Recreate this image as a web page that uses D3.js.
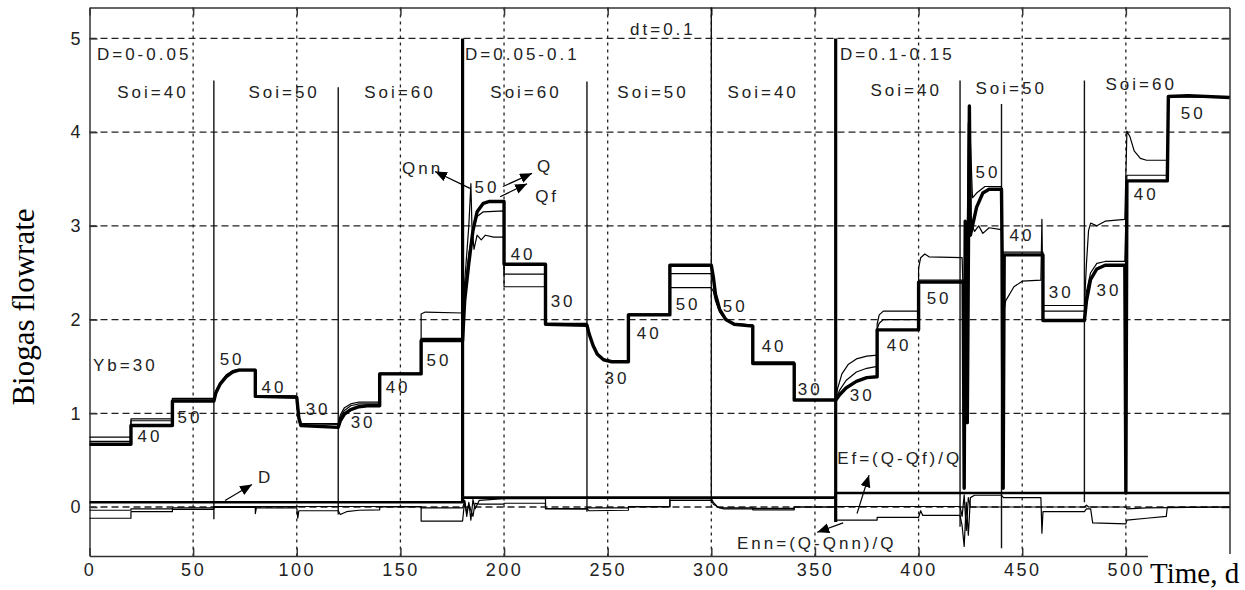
<!DOCTYPE html>
<head>
  <meta charset="utf-8">
  <script src="https://d3js.org/d3.v7.min.js"></script>
  <style>
  body { margin: 0; background: #fff; }
  #chart text {
    font-family: "Liberation Sans", Arial, sans-serif;
    font-size: 17px;
    fill: #222;
  }
  #chart .note { letter-spacing: 3px; }
  #chart .axis text { letter-spacing: 2.5px; font-size: 18px; }
  #chart .serif { font-family: "Liberation Serif", "Times New Roman", serif; fill: #000; }
  </style>
</head>

<body>
  <svg id="chart"></svg>
  <script>

    // time (d), value pairs
    var qData = [[0,0.67],[20,0.67],[20,0.87],[40,0.87],[40,1.13],[60,1.13],
      [61,1.22],[63,1.31],[66,1.39],[69,1.44],[72,1.46],[80,1.46],
      [80,1.18],[100,1.17],[101,0.95],[102,0.87],[120,0.85],
      [121,0.92],[123,0.99],[126,1.04],[130,1.07],[134,1.08],[140,1.08],
      [140,1.42],[160,1.42],[160,1.775],[180,1.775],
      [181,2.2],[183,2.6],[185,2.95],[187,3.15],[190,3.24],[193,3.26],[200,3.26],
      [200,2.59],[220,2.59],[220,1.95],[240,1.94],
      [241,1.85],[243,1.72],[245,1.63],[248,1.57],[252,1.55],[260,1.55],
      [260,2.05],[280,2.05],[280,2.58],[300,2.58],
      [301,2.45],[302,2.27],[304,2.11],[307,2.0],[311,1.95],[320,1.93],
      [320,1.53],[340,1.53],[340,1.14],[360,1.14],
      [362,1.2],[365,1.27],[370,1.34],[375,1.38],[380,1.39],
      [380,1.89],[400,1.89],[400,2.40],[421.5,2.40],
      [422,0.2],[422.5,3.05],[423.5,0.9],[424.5,4.28],[425,2.9],[428,3.2],[431,3.35],[434,3.39],[440,3.39],
      [440.3,2.69],[440.8,0.2],[441.3,2.69],[460,2.69],
      [460,1.99],[480,1.99],
      [481,2.2],[483,2.43],[486,2.54],[490,2.58],[499.5,2.58],
      [500,0.15],[500.5,3.48],[520,3.48],[520.5,4.38],[530,4.39],[550,4.37]];

    var qfData = [[0,0.70],[20,0.70],[20,0.92],[40,0.92],[40,1.15],[60,1.15],
      [61,1.23],[63,1.32],[66,1.40],[69,1.45],[72,1.465],[80,1.465],
      [80,1.19],[100,1.18],[101,0.96],[102,0.89],[120,0.88],
      [121,0.96],[123,1.03],[126,1.08],[130,1.10],[140,1.10],
      [140,1.43],[160,1.43],[160,1.80],[180,1.80],
      [181,2.3],[183,2.7],[185,2.95],[187,3.1],[190,3.15],[200,3.16],
      [200,2.485],[220,2.485],[220,1.96],[240,1.96],
      [241,1.86],[243,1.73],[245,1.64],[248,1.58],[252,1.56],[260,1.56],
      [260,2.06],[280,2.06],[280,2.49],[300,2.49],
      [301,2.42],[302,2.25],[304,2.1],[307,2.0],[311,1.96],[320,1.94],
      [320,1.55],[340,1.55],[340,1.15],[360,1.15],
      [362,1.25],[365,1.35],[370,1.44],[375,1.48],[380,1.5],
      [380,1.9],[381,1.96],[383,2.0],[400,2.0],
      [400,2.42],[422,2.42],[423,1.8],[424,4.1],[425,3.9],[426,3.3],[428,3.35],[432,3.42],[440,3.42],
      [440.5,2.72],[460,2.72],
      [460,2.09],[480,2.09],
      [481,2.3],[483,2.5],[486,2.6],[490,2.62],[499.5,2.62],
      [500.5,3.54],[520,3.54],[520.5,4.38],[550,4.37]];

    var qnnData = [[0,0.745],[20,0.745],[20,0.94],[40,0.94],[40,1.16],[60,1.16],
      [61,1.24],[63,1.33],[66,1.41],[69,1.455],[72,1.47],[80,1.47],
      [80,1.19],[100,1.185],[101,0.97],[102,0.89],[120,0.89],
      [121,0.98],[123,1.06],[126,1.10],[130,1.12],[140,1.12],
      [140,1.42],[160,1.42],[160,2.06],[162,2.08],[180,2.07],
      [181,2.4],[183,3.0],[184,3.45],[184.5,3.0],[185.5,2.75],[187,2.9],[189,2.85],[191,2.9],[195,2.88],[200,2.88],
      [200,2.35],[220,2.35],[220,1.95],[240,1.95],
      [241,1.85],[243,1.72],[245,1.63],[248,1.57],[252,1.55],[260,1.55],
      [260,2.05],[280,2.05],[280,2.34],[300,2.34],
      [301,2.3],[302,2.2],[304,2.08],[307,1.99],[311,1.95],[320,1.94],
      [320,1.54],[340,1.54],[340,1.14],[360,1.14],
      [361,1.27],[363,1.42],[366,1.52],[370,1.58],[375,1.61],[380,1.62],
      [380,1.95],[381,2.05],[383,2.09],[400,2.09],
      [400,2.55],[401,2.66],[403,2.7],[405,2.67],[421,2.66],
      [422.5,1.5],[423.5,2.9],[426,3.0],[427,2.94],[429,3.0],[431,2.92],[434,2.98],[440,2.96],
      [440.5,2.0],[442,2.2],[446,2.35],[450,2.41],[459,2.42],[459.5,3.07],[460,2.15],[480,2.15],
      [481,2.6],[482,2.95],[483,3.03],[486,3.0],[490,3.05],[499.5,3.07],
      [500.5,4.01],[502,3.95],[504,3.8],[507,3.72],[510,3.70],[520,3.70],[520.5,4.38],[550,4.37]];

    var ennData = [[0,-0.12],[20,-0.12],[20,-0.05],[40,-0.05],[40,-0.025],[60,-0.025],[60,-0.005],[80,-0.005],
      [80,-0.07],[80.5,-0.01],[100,-0.01],[100.5,-0.12],[101,-0.04],[120,-0.04],[121,-0.08],[124,-0.05],
      [130,-0.035],[140,-0.03],[140,0],[160,0],[160,-0.15],[180,-0.15],
      [181,0.07],[182,-0.1],[183,0.05],[184,-0.14],[185,0.08],[186,-0.02],[188,0.07],[200,0.09],
      [220,0.09],[220,-0.015],[240,-0.02],[241,-0.04],[260,-0.035],[260,0.005],[280,0.005],
      [280,0.09],[300,0.09],[301,0.05],[303,0.0],[306,-0.02],[320,-0.02],[320,-0.03],[340,-0.03],
      [340,0.0],[360,0.0],[360,-0.14],[380,-0.14],[380,-0.11],[400,-0.11],[401,-0.04],[402,-0.09],[420,-0.09],
      [421,-0.2],[422,-0.42],[423,0.05],[424,-0.3],[425,0.1],[427,0.125],[440,0.125],[441,0.1],[459,0.1],
      [459.5,-0.28],[460,-0.05],[480,-0.05],[481,-0.02],[483,-0.02],[484,-0.17],[500,-0.18],
      [500.5,-0.14],[510,-0.12],[519.5,-0.1],[520,0.0],[550,0.0]];

    var efData = [[0,-0.035],[20,-0.035],[20,-0.02],[40,-0.02],[40,-0.01],[60,-0.01],[60,0.005],[160,0.005],
      [160,-0.01],[180,-0.01],[181,0.06],[182,-0.06],[183,0.03],[185,-0.1],[186,0.04],[188,0.03],[200,0.03],
      [200,0.04],[220,0.04],[220,-0.02],[240,-0.02],[240,-0.01],[260,-0.01],[260,0.0],[280,0.0],
      [280,0.07],[300,0.07],[301,0.03],[304,-0.01],[320,-0.01],[320,-0.015],[340,-0.015],[340,0.0],
      [360,0.0],[360,0.005],[420,0.005],[421,-0.1],[422,0.13],[423,-0.25],[424,0.1],[425,0.0],
      [480,0.0],[481,0.02],[482,0.0],[500,0.0],[500.5,-0.02],[510,-0.01],[550,0.0]];

    var dData = [[0,0.05],[180,0.05],[180,0.1],[360,0.1],[360,0.15],[550,0.15]];

    // substrate (Soi) change markers and dilution change markers
    var soiTimes  = [60, 120, 240, 300, 420, 440, 480];
    var soiTop    = [4.55, 4.48, 4.54, 5.33, 4.55, 4.30, 4.55];
    var soiBottom = [-0.13, -0.08, -0.05, 0.04, -0.21, -0.44, 0.05];
    var dTimes  = [180, 360];
    var dTop    = [5.0, 5.0];
    var dBottom = [0.05, -0.16];

    var xTicks = [0, 50, 100, 150, 200, 250, 300, 350, 400, 450, 500];
    var yTicks = [0, 1, 2, 3, 4, 5];

    // Yb step labels: text, time, value
    var stepLabels = [["40",29.2,0.76],["50",48.5,0.955],["50",68.8,1.58],["40",89,1.28],["30",110.3,1.05],
      ["30",132,0.91],["40",148.9,1.28],["50",168.6,1.57],["50",191.8,3.41],["40",209.2,2.70],["30",228.5,2.20],
      ["30",254.5,1.38],["40",270,1.86],["50",288.8,2.17],["50",311.5,2.14],["40",330.3,1.72],["30",347.7,1.26],
      ["30",372.8,1.19],["40",390.6,1.73],["50",409.9,2.23],["50",433.5,3.57],["40",449.9,2.90],
      ["30",468.8,2.29],["30",491.9,2.32],["40",509.8,3.34],["50",532.5,4.20]];

    var notes = [["D=0-0.05",3.6,4.83,"start"],["D=0.05-0.1",181.2,4.83,"start"],["D=0.1-0.15",362.1,4.83,"start"],
      ["dt=0.1",260.8,5.1,"start"],
      ["Soi=40",30.6,4.43,"middle"],["Soi=50",93.9,4.43,"middle"],["Soi=60",149.8,4.43,"middle"],
      ["Soi=60",210.6,4.43,"middle"],["Soi=50",271.9,4.43,"middle"],["Soi=40",325,4.43,"middle"],
      ["Soi=40",394,4.45,"middle"],["Soi=50",444.7,4.47,"middle"],["Soi=60",507.4,4.51,"middle"],
      ["Yb=30",1.7,1.51,"start"],["Qnn",150.8,3.62,"start"],["Q",215.9,3.64,"start"],["Qf",215,3.32,"start"],
      ["D",81.3,0.32,"start"],["Ef=(Q-Qf)/Q",360.7,0.52,"start"],["Enn=(Q-Qnn)/Q",312.4,-0.38,"start"]];

    // arrows: from (t,v) to tip (t,v)
    var arrows = [[183.6,3.40,166.7,3.58],[199.5,3.42,213.5,3.56],[198.1,3.31,211.1,3.45],
      [65.4,0.07,78.4,0.24],[370.3,-0.07,376.1,0.34],[363.6,-0.17,351.1,-0.27]];

    var width = 1245, height = 590;
    var plotLeft = 89.5, plotTop = 7.5, plotRight = 1229.5, plotBottom = 556;

    var x = d3.scaleLinear().domain([0, 550]).range([plotLeft, plotRight]);
    var y = d3.scaleLinear().domain([-0.523, 5.33]).range([plotBottom, plotTop]);

    var chart = d3.select('#chart')
      .attr('width', width)
      .attr('height', height);

    chart.append('defs').append('marker')
      .attr('id', 'head')
      .attr('markerUnits', 'userSpaceOnUse')
      .attr('markerWidth', 14).attr('markerHeight', 12)
      .attr('refX', 12).attr('refY', 5)
      .attr('orient', 'auto')
      .append('path').attr('d', 'M0,0 L12,5 L0,10 Z').attr('fill', '#000');

    // grid
    chart.append('g').selectAll('line')
      .data(yTicks)
      .enter().append('line')
        .attr('x1', plotLeft).attr('x2', plotRight)
        .attr('y1', function(d) { return y(d); }).attr('y2', function(d) { return y(d); })
        .attr('stroke', '#222').attr('stroke-width', 1.3).attr('stroke-dasharray', '7,4');

    chart.append('g').selectAll('line')
      .data(xTicks.slice(1))
      .enter().append('line')
        .attr('y1', plotTop).attr('y2', plotBottom)
        .attr('x1', function(d) { return x(d); }).attr('x2', function(d) { return x(d); })
        .attr('stroke', '#222').attr('stroke-width', 1.3).attr('stroke-dasharray', '3,4');

    // axes with inward ticks
    chart.append('g').attr('class', 'axis')
      .attr('transform', 'translate(0,' + plotBottom + ')')
      .call(d3.axisBottom(x).tickValues(xTicks).tickFormat(d3.format('d'))
        .tickSizeInner(-8).tickSizeOuter(0).tickPadding(7));
    chart.append('g').attr('class', 'axis')
      .attr('transform', 'translate(' + plotLeft + ',0)')
      .call(d3.axisLeft(y).tickValues(yTicks).tickFormat(d3.format('d'))
        .tickSizeInner(-8).tickSizeOuter(0).tickPadding(9))
      .selectAll('text').style('letter-spacing', '0px');
    chart.append('g')
      .attr('transform', 'translate(0,' + plotTop + ')')
      .call(d3.axisTop(x).tickValues(xTicks).tickSizeInner(-8).tickSizeOuter(0).tickFormat(''));
    chart.append('g')
      .attr('transform', 'translate(' + plotRight + ',0)')
      .call(d3.axisRight(y).tickValues(yTicks).tickSizeInner(-8).tickSizeOuter(0).tickFormat(''));
    chart.selectAll('.domain, .tick line').attr('stroke', '#333').attr('stroke-width', 1.5);
    chart.selectAll('.axis .tick text').attr('fill', '#222');

    // marker lines
    chart.append('g').selectAll('line')
      .data(soiTimes)
      .enter().append('line')
        .attr('x1', function(d) { return x(d); }).attr('x2', function(d) { return x(d); })
        .attr('y1', function(d, i) { return y(soiTop[i]); })
        .attr('y2', function(d, i) { return y(soiBottom[i]); })
        .attr('stroke', '#111').attr('stroke-width', 1.4);

    chart.append('g').selectAll('line')
      .data(dTimes)
      .enter().append('line')
        .attr('x1', function(d) { return x(d); }).attr('x2', function(d) { return x(d); })
        .attr('y1', function(d, i) { return y(dTop[i]); })
        .attr('y2', function(d, i) { return y(dBottom[i]); })
        .attr('stroke', '#000').attr('stroke-width', 3.2);

    var line = d3.line()
      .x(function(d) { return x(d[0]); })
      .y(function(d) { return y(d[1]); });

    var series = [[efData, 1.2], [ennData, 1.2], [qfData, 1.2], [qnnData, 1.2], [dData, 2.6], [qData, 3.4]];
    chart.append('g').selectAll('path')
      .data(series)
      .enter().append('path')
        .attr('d', function(d) { return line(d[0]); })
        .attr('fill', 'none')
        .attr('stroke', '#000')
        .attr('stroke-linejoin', 'round')
        .attr('stroke-width', function(d) { return d[1]; });

    // labels
    chart.append('g').selectAll('text')
      .data(stepLabels)
      .enter().append('text')
        .attr('class', 'note')
        .attr('x', function(d) { return x(d[1]); })
        .attr('y', function(d) { return y(d[2]) + 6; })
        .attr('text-anchor', 'middle')
        .text(function(d) { return d[0]; });

    chart.append('g').selectAll('text')
      .data(notes)
      .enter().append('text')
        .attr('class', 'note')
        .attr('x', function(d) { return x(d[1]); })
        .attr('y', function(d) { return y(d[2]) + 6; })
        .attr('text-anchor', function(d) { return d[3]; })
        .text(function(d) { return d[0]; });

    chart.append('g').selectAll('line')
      .data(arrows)
      .enter().append('line')
        .attr('x1', function(d) { return x(d[0]); }).attr('y1', function(d) { return y(d[1]); })
        .attr('x2', function(d) { return x(d[2]); }).attr('y2', function(d) { return y(d[3]); })
        .attr('stroke', '#000').attr('stroke-width', 1.2)
        .attr('marker-end', 'url(#head)');

    // axis titles
    chart.append('rect')
      .attr('x', 1148).attr('y', plotBottom - 2).attr('width', 97).attr('height', 40)
      .attr('fill', '#fff');
    chart.append('text')
      .attr('class', 'serif')
      .attr('x', 1150).attr('y', 583)
      .style('font-size', '29px')
      .text('Time, d');
    chart.append('text')
      .attr('class', 'serif')
      .attr('transform', 'translate(34,307) rotate(-90)')
      .attr('text-anchor', 'middle')
      .style('font-size', '31px')
      .text('Biogas flowrate');

  </script>
</body>
